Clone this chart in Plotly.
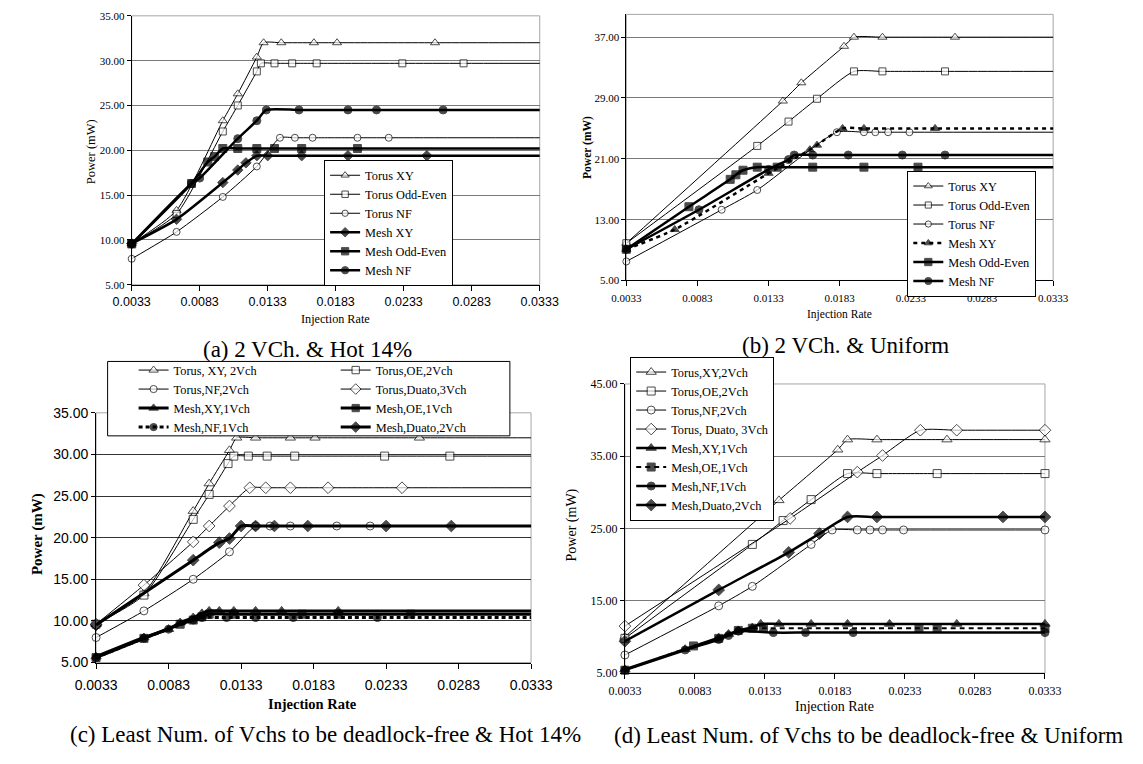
import plotly.graph_objects as go

# ---------------- data ----------------
X_TICK_VALS = [0.0033, 0.0083, 0.0133, 0.0183, 0.0233, 0.0283, 0.0333]
A_Y_TICKS = [5, 10, 15, 20, 25, 30, 35]
B_Y_TICKS = [5, 13, 21, 29, 37]
C_Y_TICKS = [5, 10, 15, 20, 25, 30, 35]
D_Y_TICKS = [5, 15, 25, 35, 45]

# (a) 2 VCh. & Hot 14%
A_TORUS_XY_X = [0.0033, 0.0066, 0.0100, 0.0111, 0.0125, 0.0130, 0.0143, 0.0167, 0.0184, 0.0256, 0.0400]
A_TORUS_XY_Y = [9.6, 13.3, 23.3, 26.3, 30.4, 32.0, 32.0, 32.0, 32.0, 32.0, 32.0]
A_TORUS_OE_X = [0.0033, 0.0066, 0.0100, 0.0111, 0.0125, 0.0128, 0.0138, 0.0151, 0.0169, 0.0232, 0.0277, 0.0400]
A_TORUS_OE_Y = [9.6, 12.9, 22.1, 25.0, 28.8, 29.7, 29.7, 29.7, 29.7, 29.7, 29.7, 29.7]
A_TORUS_NF_X = [0.0033, 0.0066, 0.0100, 0.0125, 0.0142, 0.0153, 0.0166, 0.0199, 0.0222, 0.0400]
A_TORUS_NF_Y = [7.9, 10.9, 14.8, 18.2, 21.4, 21.4, 21.4, 21.4, 21.4, 21.4]
A_MESH_XY_X = [0.0033, 0.0066, 0.0100, 0.0111, 0.0117, 0.0125, 0.0133, 0.0158, 0.0192, 0.0250, 0.0400]
A_MESH_XY_Y = [9.6, 12.3, 16.4, 17.8, 18.6, 19.4, 19.4, 19.4, 19.4, 19.4, 19.4]
A_MESH_OE_X = [0.0033, 0.0077, 0.0089, 0.0094, 0.0100, 0.0111, 0.0125, 0.0138, 0.0158, 0.0199, 0.0400]
A_MESH_OE_Y = [9.55, 16.3, 18.7, 19.3, 20.2, 20.2, 20.2, 20.2, 20.2, 20.2, 20.2]
A_MESH_NF_X = [0.0033, 0.0077, 0.0083, 0.0111, 0.0125, 0.0132, 0.0156, 0.0192, 0.0213, 0.0262, 0.0400]
A_MESH_NF_Y = [9.55, 16.3, 16.9, 21.3, 23.3, 24.5, 24.5, 24.5, 24.5, 24.5, 24.5]
A_NAMES = ["Torus XY", "Torus Odd-Even", "Torus NF", "Mesh XY", "Mesh Odd-Even", "Mesh NF"]

# (b) 2 VCh. & Uniform
B_TORUS_XY_X = [0.0033, 0.0143, 0.0156, 0.0186, 0.0193, 0.0213, 0.0264, 0.0400]
B_TORUS_XY_Y = [9.9, 28.6, 31.0, 35.8, 37.0, 37.0, 37.0, 37.0]
B_TORUS_OE_X = [0.0033, 0.0125, 0.0147, 0.0167, 0.0193, 0.0213, 0.0257, 0.0400]
B_TORUS_OE_Y = [9.9, 22.7, 25.9, 28.9, 32.5, 32.5, 32.5, 32.5]
B_TORUS_NF_X = [0.0033, 0.0100, 0.0125, 0.0181, 0.0200, 0.0208, 0.0217, 0.0232, 0.0400]
B_TORUS_NF_Y = [7.5, 14.3, 16.9, 24.5, 24.5, 24.5, 24.5, 24.5, 24.5]
B_MESH_XY_X = [0.0033, 0.0067, 0.0133, 0.0162, 0.0167, 0.0185, 0.0200, 0.0250, 0.0400]
B_MESH_XY_Y = [9.1, 11.7, 19.1, 22.2, 22.8, 25.0, 25.0, 25.0, 25.0]
B_MESH_OE_X = [0.0033, 0.0077, 0.0106, 0.0110, 0.0115, 0.0125, 0.0139, 0.0164, 0.0200, 0.0238, 0.0400]
B_MESH_OE_Y = [9.1, 14.7, 18.3, 18.9, 19.5, 19.9, 19.9, 19.9, 19.9, 19.9, 19.9]
B_MESH_NF_X = [0.0033, 0.0084, 0.0133, 0.0147, 0.0151, 0.0164, 0.0189, 0.0227, 0.0257, 0.0400]
B_MESH_NF_Y = [9.1, 14.3, 19.6, 20.9, 21.5, 21.5, 21.5, 21.5, 21.5, 21.5]
B_NAMES = ["Torus XY", "Torus Odd-Even", "Torus NF", "Mesh XY", "Mesh Odd-Even", "Mesh NF"]

# (c) Least Num. of Vchs to be deadlock-free & Hot 14%
C_TORUS_XY_X = [0.0033, 0.0066, 0.0100, 0.0111, 0.0125, 0.0130, 0.0143, 0.0167, 0.0184, 0.0256, 0.0400]
C_TORUS_XY_Y = [9.6, 13.3, 23.2, 26.5, 30.5, 32.0, 32.0, 32.0, 32.0, 32.0, 32.0]
C_TORUS_OE_X = [0.0033, 0.0066, 0.0100, 0.0111, 0.0124, 0.0128, 0.0138, 0.0151, 0.0170, 0.0232, 0.0277, 0.0400]
C_TORUS_OE_Y = [9.6, 13.1, 22.2, 25.2, 28.9, 29.8, 29.8, 29.8, 29.8, 29.8, 29.8, 29.8]
C_TORUS_NF_X = [0.0033, 0.0066, 0.0100, 0.0125, 0.0143, 0.0153, 0.0167, 0.0199, 0.0222, 0.0400]
C_TORUS_NF_Y = [8.0, 11.2, 15.0, 18.3, 21.4, 21.4, 21.4, 21.4, 21.4, 21.4]
C_TORUS_DU_X = [0.0033, 0.0066, 0.0100, 0.0111, 0.0125, 0.0139, 0.0150, 0.0167, 0.0193, 0.0244, 0.0400]
C_TORUS_DU_Y = [9.6, 14.3, 19.5, 21.4, 23.8, 26.0, 26.0, 26.0, 26.0, 26.0, 26.0]
C_MESH_XY_X = [0.0033, 0.0066, 0.0083, 0.0091, 0.0100, 0.0106, 0.0111, 0.0118, 0.0128, 0.0143, 0.0161, 0.0200, 0.0400]
C_MESH_XY_Y = [5.7, 8.0, 9.0, 9.8, 10.4, 10.9, 11.2, 11.2, 11.2, 11.2, 11.2, 11.2, 11.2]
C_MESH_OE_X = [0.0033, 0.0066, 0.0091, 0.0100, 0.0106, 0.0111, 0.0128, 0.0175, 0.0200, 0.0250, 0.0400]
C_MESH_OE_Y = [5.6, 7.9, 9.6, 10.1, 10.5, 10.8, 10.8, 10.8, 10.8, 10.8, 10.8]
C_MESH_NF_X = [0.0033, 0.0066, 0.0083, 0.0100, 0.0106, 0.0123, 0.0143, 0.0169, 0.0227, 0.0400]
C_MESH_NF_Y = [5.6, 7.9, 9.0, 10.1, 10.4, 10.4, 10.4, 10.4, 10.4, 10.4]
C_MESH_DU_X = [0.0033, 0.0100, 0.0118, 0.0125, 0.0133, 0.0143, 0.0156, 0.0179, 0.0233, 0.0278, 0.0400]
C_MESH_DU_Y = [9.5, 17.3, 19.4, 19.9, 21.4, 21.4, 21.4, 21.4, 21.4, 21.4, 21.4]
C_NAMES = ["Torus, XY, 2Vch", "Torus,OE,2Vch", "Torus,NF,2Vch", "Torus,Duato,3Vch",
           "Mesh,XY,1Vch", "Mesh,OE,1Vch", "Mesh,NF,1Vch", "Mesh,Duato,2Vch"]

# (d) Least Num. of Vchs to be deadlock-free & Uniform
D_TORUS_XY_X = [0.0033, 0.0143, 0.0185, 0.0192, 0.0213, 0.0263, 0.0333]
D_TORUS_XY_Y = [10.0, 28.9, 35.9, 37.3, 37.3, 37.3, 37.3]
D_TORUS_OE_X = [0.0033, 0.0124, 0.0146, 0.0166, 0.0192, 0.0213, 0.0256, 0.0333]
D_TORUS_OE_Y = [9.8, 22.8, 26.1, 29.0, 32.6, 32.6, 32.6, 32.6]
D_TORUS_NF_X = [0.0033, 0.0100, 0.0124, 0.0166, 0.0181, 0.0199, 0.0208, 0.0217, 0.0232, 0.0333]
D_TORUS_NF_Y = [7.5, 14.3, 17.0, 22.8, 24.8, 24.8, 24.8, 24.8, 24.8, 24.8]
D_TORUS_DU_X = [0.0033, 0.0151, 0.0199, 0.0217, 0.0244, 0.0270, 0.0333]
D_TORUS_DU_Y = [11.5, 26.4, 32.8, 35.1, 38.6, 38.6, 38.6]
D_MESH_XY_X = [0.0033, 0.0076, 0.0100, 0.0107, 0.0114, 0.0124, 0.0130, 0.0143, 0.0166, 0.0192, 0.0222, 0.0270, 0.0333]
D_MESH_XY_Y = [5.5, 8.3, 9.9, 10.4, 10.9, 11.3, 11.8, 11.8, 11.8, 11.8, 11.8, 11.8, 11.8]
D_MESH_OE_X = [0.0033, 0.0082, 0.0100, 0.0114, 0.0124, 0.0132, 0.0243, 0.0256, 0.0333]
D_MESH_OE_Y = [5.4, 8.75, 9.8, 10.9, 11.2, 11.2, 11.2, 11.2, 11.2]
D_MESH_NF_X = [0.0033, 0.0076, 0.0100, 0.0107, 0.0114, 0.0139, 0.0162, 0.0196, 0.0333]
D_MESH_NF_Y = [5.4, 8.2, 9.65, 10.2, 10.8, 10.6, 10.6, 10.6, 10.6]
D_MESH_DU_X = [0.0033, 0.0100, 0.0150, 0.0172, 0.0192, 0.0213, 0.0303, 0.0333]
D_MESH_DU_Y = [9.4, 16.5, 21.7, 24.3, 26.6, 26.6, 26.6, 26.6]
D_NAMES = ["Torus,XY,2Vch", "Torus,OE,2Vch", "Torus,NF,2Vch", "Torus, Duato, 3Vch",
           "Mesh,XY,1Vch", "Mesh,OE,1Vch", "Mesh,NF,1Vch", "Mesh,Duato,2Vch"]

CAPTIONS = ["(a) 2 VCh. &amp; Hot 14%", "(b) 2 VCh. &amp; Uniform",
            "(c) Least Num. of Vchs to be deadlock-free &amp; Hot 14%",
            "(d) Least Num. of Vchs to be deadlock-free &amp; Uniform"]

# ---------------- figure ----------------
W, H = 1143, 764
SERIF = "Liberation Serif, Times New Roman, serif"
SANS = "Liberation Sans, Arial, sans-serif"


def fx(p):
    return p / W


def fy(p):
    return 1 - p / H


fig = go.Figure()


def add(xs, ys, name, axis_n, legend, symbol, filled, lw, dash="solid", msize=8, tail=True):
    sizes = [msize] * len(xs)
    if tail:
        sizes[-1] = 0
    sfx = "" if axis_n == 1 else str(axis_n)
    fig.add_trace(go.Scatter(
        x=xs, y=ys, name=name, mode="lines+markers",
        xaxis="x" + sfx, yaxis="y" + sfx, legend=legend, cliponaxis=False,
        line=dict(color="black", width=lw, dash=dash, shape="spline", smoothing=0.6),
        marker=dict(symbol=symbol, size=sizes, color="black" if filled else "white",
                    line=dict(color="black", width=1)),
        hoverinfo="skip"))


# (a)
add(A_TORUS_XY_X, A_TORUS_XY_Y, A_NAMES[0], 1, "legend", "triangle-up", False, 1)
add(A_TORUS_OE_X, A_TORUS_OE_Y, A_NAMES[1], 1, "legend", "square", False, 1, msize=7)
add(A_TORUS_NF_X, A_TORUS_NF_Y, A_NAMES[2], 1, "legend", "circle", False, 1, msize=7)
add(A_MESH_XY_X, A_MESH_XY_Y, A_NAMES[3], 1, "legend", "diamond", True, 2.5, msize=8)
add(A_MESH_OE_X, A_MESH_OE_Y, A_NAMES[4], 1, "legend", "square", True, 2.5, msize=8)
add(A_MESH_NF_X, A_MESH_NF_Y, A_NAMES[5], 1, "legend", "circle", True, 2.5, msize=8)

# (b)
add(B_TORUS_XY_X, B_TORUS_XY_Y, B_NAMES[0], 2, "legend2", "triangle-up", False, 1)
add(B_TORUS_OE_X, B_TORUS_OE_Y, B_NAMES[1], 2, "legend2", "square", False, 1, msize=7)
add(B_TORUS_NF_X, B_TORUS_NF_Y, B_NAMES[2], 2, "legend2", "circle", False, 1, msize=7)
add(B_MESH_XY_X, B_MESH_XY_Y, B_NAMES[3], 2, "legend2", "triangle-up", True, 2.5, dash="4px,4px")
add(B_MESH_OE_X, B_MESH_OE_Y, B_NAMES[4], 2, "legend2", "square", True, 2.5)
add(B_MESH_NF_X, B_MESH_NF_Y, B_NAMES[5], 2, "legend2", "circle", True, 2.5)

# (c)
add(C_TORUS_XY_X, C_TORUS_XY_Y, C_NAMES[0], 3, "legend3", "triangle-up", False, 1, msize=9)
add(C_TORUS_OE_X, C_TORUS_OE_Y, C_NAMES[1], 3, "legend4", "square", False, 1, msize=8)
add(C_TORUS_NF_X, C_TORUS_NF_Y, C_NAMES[2], 3, "legend3", "circle", False, 1, msize=8)
add(C_TORUS_DU_X, C_TORUS_DU_Y, C_NAMES[3], 3, "legend4", "diamond", False, 1, msize=9)
add(C_MESH_XY_X, C_MESH_XY_Y, C_NAMES[4], 3, "legend3", "triangle-up", True, 3, msize=9)
add(C_MESH_OE_X, C_MESH_OE_Y, C_NAMES[5], 3, "legend4", "square", True, 3, msize=8)
add(C_MESH_NF_X, C_MESH_NF_Y, C_NAMES[6], 3, "legend3", "circle", True, 3, dash="4px,3px", msize=8)
add(C_MESH_DU_X, C_MESH_DU_Y, C_NAMES[7], 3, "legend4", "diamond", True, 3, msize=9)

# (d)
add(D_TORUS_XY_X, D_TORUS_XY_Y, D_NAMES[0], 4, "legend5", "triangle-up", False, 1, msize=9, tail=False)
add(D_TORUS_OE_X, D_TORUS_OE_Y, D_NAMES[1], 4, "legend5", "square", False, 1, msize=8, tail=False)
add(D_TORUS_NF_X, D_TORUS_NF_Y, D_NAMES[2], 4, "legend5", "circle", False, 1, msize=8, tail=False)
add(D_TORUS_DU_X, D_TORUS_DU_Y, D_NAMES[3], 4, "legend5", "diamond", False, 1, msize=9, tail=False)
add(D_MESH_XY_X, D_MESH_XY_Y, D_NAMES[4], 4, "legend5", "triangle-up", True, 2.5, msize=9, tail=False)
add(D_MESH_OE_X, D_MESH_OE_Y, D_NAMES[5], 4, "legend5", "square", True, 2, dash="5px,4px", msize=8, tail=False)
add(D_MESH_NF_X, D_MESH_NF_Y, D_NAMES[6], 4, "legend5", "circle", True, 2.5, msize=8, tail=False)
add(D_MESH_DU_X, D_MESH_DU_Y, D_NAMES[7], 4, "legend5", "diamond", True, 2.5, msize=9, tail=False)


def xax(n, left, right, tfont, standoff):
    return dict(domain=[fx(left), fx(right)], range=[0.0033, 0.0333], tickvals=X_TICK_VALS,
                tickformat=".4f", showline=True, linecolor="black", linewidth=1,
                ticks="outside", ticklen=5, tickcolor="black", tickwidth=1, tickfont=tfont,
                showgrid=False, zeroline=False, anchor="y" if n == 1 else "y%d" % n,
                ticklabelstandoff=standoff, fixedrange=True)


def yax(n, top, bottom, rng, tickvals, tfont, gridcolor):
    return dict(domain=[fy(bottom), fy(top)], range=rng, tickvals=tickvals, tickformat=".2f",
                showline=True, linecolor="black", linewidth=1, ticks="outside", ticklen=4,
                tickcolor="black", tickfont=tfont, showgrid=True, gridcolor=gridcolor,
                gridwidth=1, zeroline=False, anchor="x" if n == 1 else "x%d" % n,
                fixedrange=True)


f_a_y = dict(family=SERIF, size=11, color="black")
f_a_x = dict(family=SANS, size=12.5, color="black")
f_b = dict(family=SERIF, size=11, color="black")
f_c = dict(family=SANS, size=14, color="black")
f_d = dict(family=SERIF, size=12, color="black")

legend_font = dict(family=SERIF, size=12.3, color="black")


def leg(x, y, xanchor, boxed=True):
    return dict(x=fx(x), y=fy(y), xanchor=xanchor, yanchor="top",
                bgcolor="white" if boxed else "rgba(0,0,0,0)",
                bordercolor="black", borderwidth=1 if boxed else 0,
                font=legend_font, tracegroupgap=0)


annotations = []


def text(x, y, s, size, family=SERIF, angle=0):
    annotations.append(dict(x=fx(x), y=fy(y), xref="paper", yref="paper", text=s,
                            showarrow=False, xanchor="center", yanchor="middle",
                            textangle=angle, font=dict(family=family, size=size, color="black")))


# captions
text(298, 349, CAPTIONS[0], 23)
text(857, 345, CAPTIONS[1], 23)
text(316, 742, CAPTIONS[2], 23)
text(881, 743, CAPTIONS[3], 23)
# axis titles
text(73, 147, "Power (mW)", 12.5, angle=-90)
text(327, 318, "Injection Rate", 12.2)
text(588, 142, "<b>Power (mW)</b>", 11.5, angle=-90)
text(851, 313, "Injection Rate", 11.5)
text(17, 537, "<b>Power (mW)</b>", 15, angle=-90)
text(303, 711, "<b>Injection Rate</b>", 14.5)
text(572, 528, "Power (mW)", 14, angle=-90)
text(845, 713, "Injection Rate", 14)

shapes = []
for sfx in ["", "2", "3", "4"]:
    shapes.append(dict(type="rect", xref="x%s domain" % sfx, yref="y%s domain" % sfx,
                       x0=0, x1=1, y0=0, y1=1, line=dict(color="#a6a6a6", width=1),
                       layer="below"))
# box around the two-column legend of panel (c)
shapes.append(dict(type="rect", xref="paper", yref="paper", x0=fx(90), x1=fx(508),
                   y0=fy(437), y1=fy(361), line=dict(color="black", width=1),
                   fillcolor="white", layer="above"))

fig.update_layout(
    width=W, height=H, margin=dict(l=0, r=0, t=0, b=0),
    paper_bgcolor="white", plot_bgcolor="white", showlegend=True,
    xaxis=xax(1, 115, 539, f_a_x, 0),
    yaxis=yax(1, 8, 282.7, [5, 35], A_Y_TICKS, f_a_y, "#7a7a7a"),
    xaxis2=xax(2, 629, 1072.5, f_b, 2),
    yaxis2=yax(2, 6.5, 278.3, [5, 40], B_Y_TICKS, f_b, "#7a7a7a"),
    xaxis3=xax(3, 78, 530, f_c, 5),
    yaxis3=yax(3, 413.5, 668.5, [5, 35], C_Y_TICKS, f_c, "#333333"),
    xaxis4=xax(4, 627.5, 1064, f_d, 2),
    yaxis4=yax(4, 384, 679.3, [5, 45], D_Y_TICKS, f_d, "#7a7a7a"),
    legend=leg(449, 155, "right"),
    legend2=leg(1055, 166, "right"),
    legend3=leg(117, 355, "left", boxed=False),
    legend4=leg(327, 355, "left", boxed=False),
    legend5=leg(633, 356, "left"),
    annotations=annotations,
    shapes=shapes,
)

fig.write_html("out.html")
